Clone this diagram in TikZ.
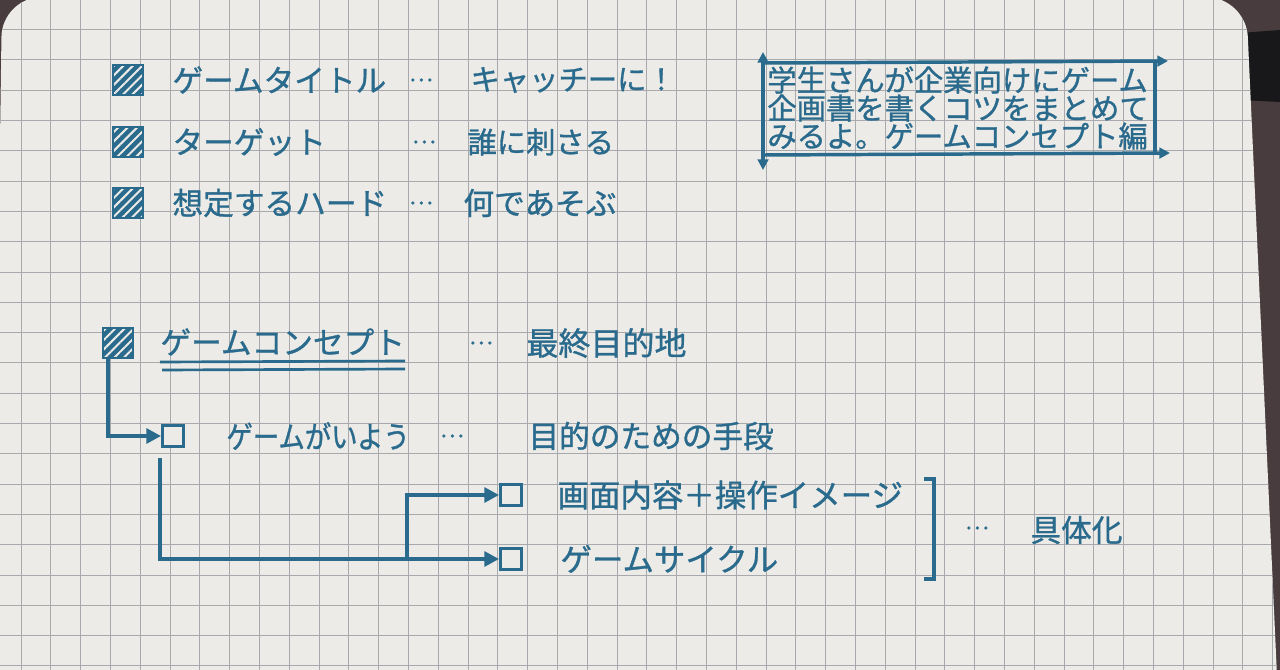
\documentclass[tikz,border=0pt]{standalone}
\usepackage{fontspec}
\newfontfamily\jpfont[FakeBold=1]{Noto Sans CJK JP}
\newfontfamily\jpnarrow[FakeBold=1,FakeStretch=0.86]{Noto Sans CJK JP}
\usetikzlibrary{arrows.meta,patterns.meta}

\definecolor{ink}{RGB}{42,106,140}
\definecolor{paper}{RGB}{236,235,231}
\definecolor{gridgray}{RGB}{168,169,173}
\definecolor{desk}{RGB}{72,60,62}
\definecolor{band}{RGB}{24,24,26}

\tikzset{every picture/.style={line width=0.75pt}}

\begin{document}
\begin{tikzpicture}[x=0.75pt,y=0.75pt,yscale=-1,xscale=1,
  hatchbox/.style={draw=ink, line width=1.8pt, minimum size=22.5pt, inner sep=0pt, preaction={fill=ink}, pattern={Lines[angle=45,distance=5pt,line width=1.5pt]}, pattern color=paper},
  openbox/.style={draw=ink, line width=2.4pt, minimum size=15.5pt, inner sep=0pt, fill=paper},
  hand/.style={text=ink, font=\jpfont\fontsize{23pt}{23pt}\selectfont, inner sep=0pt, anchor=west},
  dots/.style={text=ink, font=\jpfont\fontsize{17pt}{17pt}\selectfont, inner sep=0pt},
  conn/.style={draw=ink, line width=3.2pt, -{Triangle[length=11pt,width=11pt]}},
  frame/.style={draw=ink, line width=2.6pt},
  gridline/.style={draw=gridgray, line width=0.75pt}
]
\useasboundingbox (0,0) rectangle (1280,670);

%Desk and notebook page
\fill[desk] (0,0) rectangle (1280,670);
\fill[band] (1240,33) -- (1280,30) -- (1280,102) -- (1240,100) -- cycle;
\fill[paper, rounded corners=30] (-8,720) -- (2,-3) -- (1246,-3) -- (1279,720) -- cycle;
\begin{scope}
\clip[rounded corners=30] (-8,720) -- (2,-3) -- (1246,-3) -- (1279,720) -- cycle;
\foreach \gx in {0,...,42} \draw[gridline] ({21.1+29.8*\gx},0) -- ({21.1+29.8*\gx},670);
\foreach \gy in {0,...,22} \draw[gridline] (0,{-0.7+30.3*\gy}) -- (1280,{-0.7+30.3*\gy});
\end{scope}

% Text Node
\node[hatchbox] (sqTitle) at (128,80) {};
\node[hand] (tTitle) at (172,80) {ゲームタイトル};
\node[dots] (dTitle) at (421,80) {…};
\node[hand, font=\jpfont\fontsize{22pt}{22pt}\selectfont] (tCatchy) at (470,80) {キャッチーに！};
% Text Node
\node[hatchbox] (sqTarget) at (128,142) {};
\node[hand] (tTarget) at (172,142) {ターゲット};
\node[dots] (dTarget) at (424,142) {…};
\node[hand, font=\jpfont\fontsize{22pt}{22pt}\selectfont] (tWho) at (467,142) {誰に刺さる};
% Text Node
\node[hatchbox] (sqHard) at (128,203) {};
\node[hand] (tHard) at (172,203) {想定するハード};
\node[dots] (dHard) at (421,203) {…};
\node[hand] (tWhat) at (463,203) {何であそぶ};

%Title box
\draw[frame, {Triangle[length=8pt,width=8pt]}-{Triangle[length=8pt,width=8pt]}] (763,52) -- (763,170);
\draw[frame, -{Triangle[length=8pt,width=8pt]}] (763,63) -- (1168,61);
\draw[frame, -{Triangle[length=8pt,width=8pt]}] (763,155) -- (1170,153);
\draw[frame] (1155,62) -- (1155,154);
\node[text=ink, font=\jpfont\fontsize{22pt}{21pt}\selectfont, inner sep=0pt, align=left] (tBox) at (958,108) {学生さんが企業向けにゲーム\\企画書を書くコツをまとめて\\みるよ。ゲームコンセプト編};

% Text Node
\node[hatchbox] (sqConcept) at (118,343) {};
\node[hand] (tConcept) at (160,342) {ゲームコンセプト};
\node[dots] (dConcept) at (481,343) {…};
\node[hand, font=\jpfont\fontsize{24pt}{24pt}\selectfont] (tGoal) at (526,343) {最終目的地};
\draw[draw=ink, line width=2pt] (160,362) -- (405,361);
\draw[draw=ink, line width=2pt] (162,370) -- (405,369);

% Text Node
\node[openbox] (sqGaiyou) at (173,436) {};
\node[hand, font=\jpnarrow\fontsize{23pt}{23pt}\selectfont] (tGaiyou) at (226,436) {ゲームがいよう};
\node[dots] (dGaiyou) at (452,436) {…};
\node[hand] (tMeans) at (528,436) {目的のための手段};
% Text Node
\node[openbox] (sqScreen) at (511,495) {};
\node[hand, font=\jpfont\fontsize{23.6pt}{23.6pt}\selectfont] (tScreen) at (557,495) {画面内容＋操作イメージ};
\node[openbox] (sqCycle) at (511,559) {};
\node[hand, font=\jpfont\fontsize{23.6pt}{23.6pt}\selectfont] (tCycle) at (560,559) {ゲームサイクル};

%Straight Lines
\coordinate (cStart) at (108,359);
\coordinate (gStart) at (160,458);
\coordinate (fork) at (407,559);
\draw[conn] (cStart) |- (sqGaiyou.west);
\draw[conn] (gStart) |- (sqCycle.west);
\draw[conn] (fork) |- (sqScreen.west);

%Bracket
\draw[draw=ink, line width=2.8pt] (924,479) -- (934,479) -- (934,579) -- (924,579);
\node[dots] (dConcrete) at (977,528) {…};
\node[hand] (tConcrete) at (1030,530) {具体化};

\end{tikzpicture}
\end{document}
